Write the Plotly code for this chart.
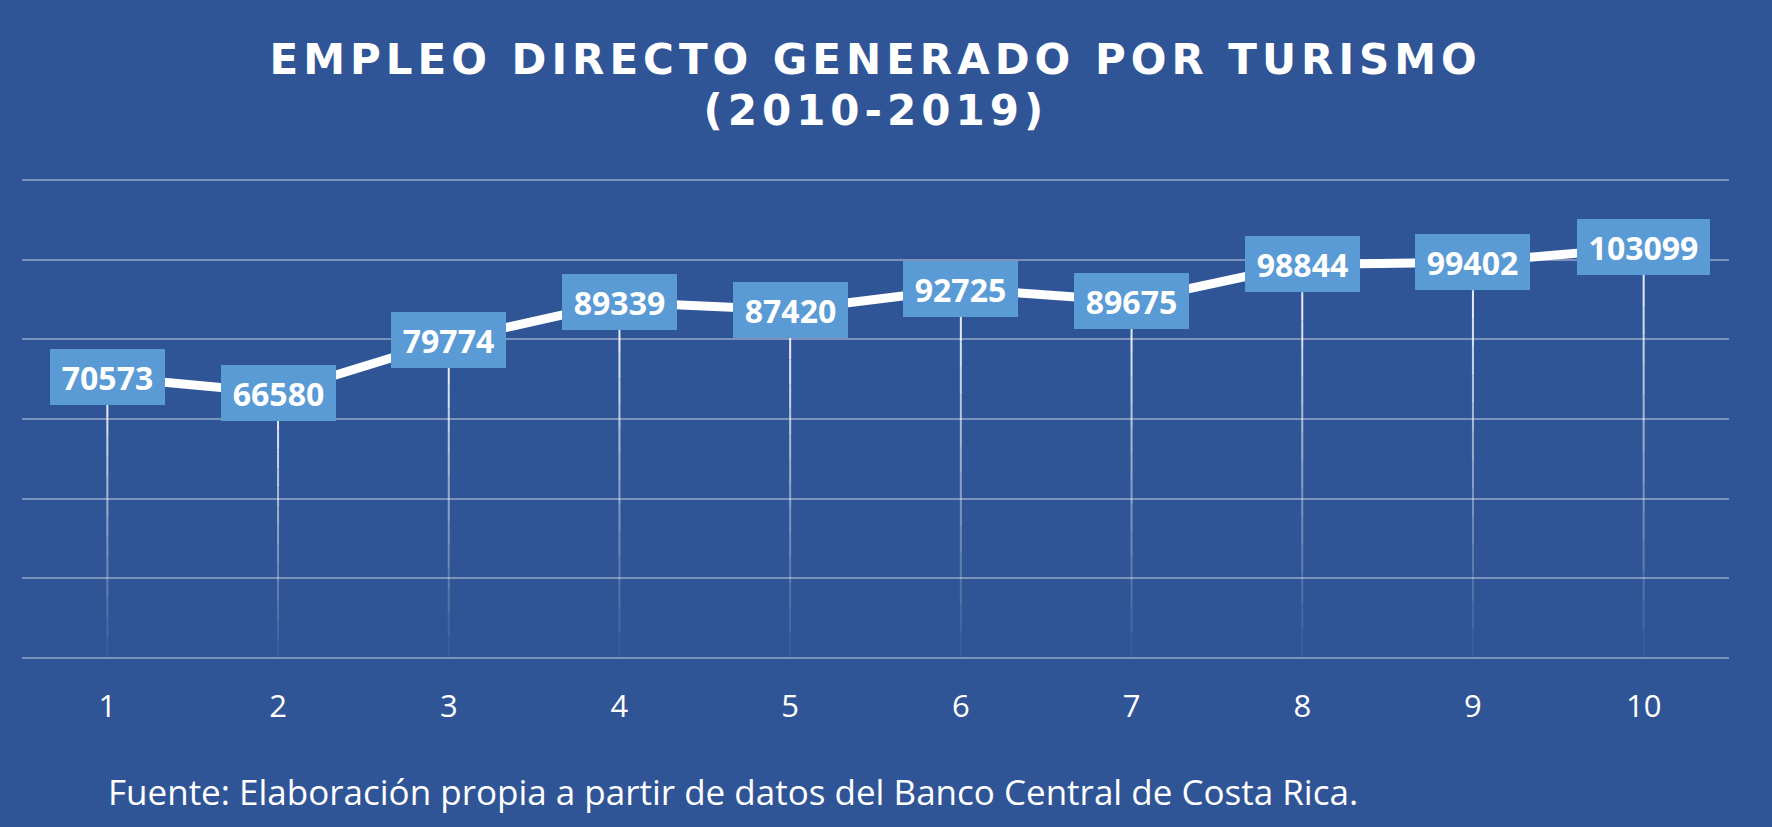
import plotly.graph_objects as go

# data
periodo = [1, 2, 3, 4, 5, 6, 7, 8, 9, 10]
periodo_labels = ["1", "2", "3", "4", "5", "6", "7", "8", "9", "10"]
empleo = [70573, 66580, 79774, 89339, 87420, 92725, 89675, 98844, 99402, 103099]

titulo = "EMPLEO DIRECTO GENERADO POR TURISMO"
subtitulo = "(2010-2019)"
fuente = "Fuente: Elaboración propia a partir de datos del Banco Central de Costa Rica."

BG = "#2F5597"
BOX = "#5B9BD5"
GRID = "rgba(255,255,255,0.36)"

fig = go.Figure()

# drop lines from each point to the axis, fading out toward the bottom
n_steps = 14
for k in range(n_steps):
    xs, ys = [], []
    for x, v in zip(periodo, empleo):
        xs += [x, x, None]
        ys += [v * (1 - k / n_steps), v * (1 - (k + 1) / n_steps), None]
    alpha = 0.95 * (1 - k / n_steps) ** 1.1
    fig.add_trace(
        go.Scatter(
            x=xs, y=ys, mode="lines",
            line=dict(color=f"rgba(255,255,255,{alpha:.3f})", width=2),
            hoverinfo="skip", showlegend=False,
        )
    )

fig.add_trace(
    go.Scatter(
        x=periodo, y=empleo, mode="lines",
        line=dict(color="white", width=9),
        showlegend=False,
        hovertemplate="%{x}: %{y}<extra></extra>",
    )
)

# title lines (letter spacing added in post_script)
fig.add_annotation(
    text=f"<b>{titulo}</b>", xref="paper", yref="paper", x=0.5, y=1.248,
    xanchor="center", yanchor="middle", showarrow=False,
    font=dict(family="DejaVu Sans", size=42, color="white"),
)
fig.add_annotation(
    text=f"<b>{subtitulo}</b>", xref="paper", yref="paper", x=0.5, y=1.142,
    xanchor="center", yanchor="middle", showarrow=False,
    font=dict(family="DejaVu Sans", size=42, color="white"),
)

# value labels in boxes
for x, v in zip(periodo, empleo):
    s = str(v)
    fig.add_annotation(
        x=x, y=v, text=f"<b>{s}</b>", showarrow=False,
        font=dict(family="Open Sans", size=32, color="white"),
        bgcolor=BOX, borderpad=0, borderwidth=0,
        width=18 * len(s) + 25, height=56,
        xanchor="center", yanchor="middle",
    )

fig.add_annotation(
    text=fuente,
    xref="paper", yref="paper", x=0.049, y=-0.275,
    xanchor="left", yanchor="middle", showarrow=False,
    font=dict(family="Open Sans", size=35, color="white"),
)

fig.update_layout(
    width=1772, height=827,
    paper_bgcolor=BG, plot_bgcolor=BG,
    margin=dict(l=22, r=43, t=179, b=168),
    xaxis=dict(
        range=[0.5, 10.5], tickvals=periodo, ticktext=periodo_labels,
        showgrid=False, zeroline=False, showline=False,
        ticks="outside", ticklen=20, tickcolor="rgba(0,0,0,0)",
        tickfont=dict(family="Open Sans", size=31, color="white"),
    ),
    yaxis=dict(
        range=[-300, 120300], tickvals=[0, 20000, 40000, 60000, 80000, 100000, 120000],
        showgrid=True, gridcolor=GRID, gridwidth=2,
        zeroline=False, showticklabels=False, showline=False,
    ),
    showlegend=False,
)

post = """
document.body.style.margin = '0';
document.querySelectorAll('.annotation-text').forEach(function (t) {
  var s = t.textContent;
  if (s.indexOf('EMPLEO') === 0 || s.indexOf('(2010') === 0) {
    t.style.letterSpacing = '5px';
  }
});
"""

fig.write_html("out.html", post_script=post, config={"displayModeBar": False})
